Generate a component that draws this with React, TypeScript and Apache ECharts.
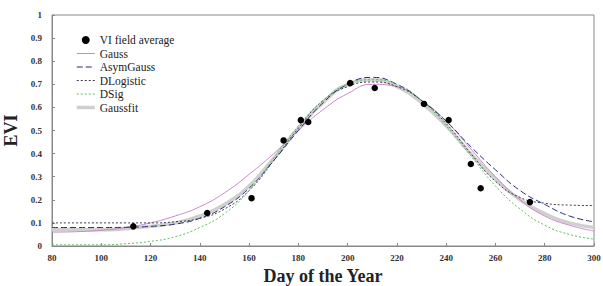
import React, { useEffect, useRef } from "react";
import * as echarts from "echarts";

const fieldDays = [113, 143, 161, 174, 181, 184, 201, 211, 231, 241, 250, 254, 274];
const fieldEVI = [0.085, 0.143, 0.207, 0.457, 0.545, 0.537, 0.705, 0.684, 0.615, 0.545, 0.355, 0.25, 0.19];

const curveDays = [80, 90, 100, 110, 120, 130, 140, 150, 160, 170, 180, 190, 200, 210, 220, 230, 240, 250, 260, 270, 280, 290, 300];
const gauss = [0.06, 0.062, 0.068, 0.08, 0.1, 0.13, 0.17, 0.23, 0.31, 0.4, 0.5, 0.59, 0.66, 0.7, 0.69, 0.63, 0.54, 0.42, 0.3, 0.2, 0.13, 0.09, 0.065];
const asymGauss = [0.08, 0.08, 0.08, 0.081, 0.085, 0.095, 0.12, 0.17, 0.25, 0.37, 0.5, 0.62, 0.7, 0.73, 0.7, 0.63, 0.54, 0.43, 0.33, 0.24, 0.18, 0.13, 0.105];
const dLogistic = [0.1, 0.1, 0.1, 0.1, 0.1, 0.105, 0.12, 0.16, 0.24, 0.37, 0.51, 0.63, 0.69, 0.71, 0.69, 0.63, 0.53, 0.4, 0.28, 0.21, 0.185, 0.177, 0.175];
const dSig = [0.005, 0.005, 0.005, 0.01, 0.02, 0.04, 0.08, 0.14, 0.24, 0.38, 0.52, 0.63, 0.7, 0.72, 0.7, 0.63, 0.52, 0.39, 0.26, 0.16, 0.09, 0.05, 0.03];
const gaussfit = [0.07, 0.07, 0.07, 0.075, 0.085, 0.1, 0.13, 0.18, 0.26, 0.38, 0.51, 0.62, 0.7, 0.72, 0.69, 0.62, 0.52, 0.4, 0.29, 0.2, 0.14, 0.1, 0.08];

const xTicks = [80, 100, 120, 140, 160, 180, 200, 220, 240, 260, 280, 300];
const legendNames = ["VI field average", "Gauss", "AsymGauss", "DLogistic", "DSig", "Gaussfit"];

const FONT = "Liberation Serif";

function pairs(xs: number[], ys: number[]) {
  return xs.map((x, i) => [x, ys[i]]);
}

export default function App() {
  const ref = useRef<HTMLDivElement>(null);
  useEffect(() => {
    if (!ref.current) return;
    const chart = echarts.init(ref.current, null, { renderer: "svg" });
    const lineBase = { type: "line", smooth: true, symbol: "none", z: 2 };
    chart.setOption({
      animation: false,
      backgroundColor: "#fff",
      grid: {
        left: 52,
        right: 9,
        top: 15,
        bottom: 40,
        show: true,
        borderColor: "#888",
        borderWidth: 1,
        containLabel: false,
        outerBoundsMode: "none",
      },
      legend: {
        orient: "vertical",
        left: 70,
        top: 29,
        itemWidth: 18,
        itemHeight: 8,
        itemGap: 1.5,
        textStyle: { fontFamily: FONT, fontSize: 11.5, color: "#222", lineHeight: 11 },
        data: legendNames.map((n, i) =>
          i === 0
            ? { name: n }
            : { name: n, itemStyle: { opacity: 0 }, lineStyle: { width: n === "Gaussfit" ? 3.5 : 1 } }
        ),
      },
      xAxis: {
        type: "value",
        min: 80,
        max: 300,
        interval: 20,
        name: "Day of the Year",
        nameLocation: "middle",
        nameGap: 17,
        nameTextStyle: { fontFamily: FONT, fontSize: 18, fontWeight: "bold", color: "#222" },
        axisLine: { lineStyle: { color: "#888" } },
        axisTick: { inside: true, length: 3, lineStyle: { color: "#888" } },
        axisLabel: {
          fontFamily: FONT,
          fontSize: 9,
          fontWeight: "bold",
          color: "#333",
          margin: 7,
          formatter: (v: number) => (xTicks.includes(v) ? String(v) : ""),
        },
        splitLine: { show: false },
      },
      yAxis: {
        type: "value",
        min: 0,
        max: 1,
        interval: 0.1,
        name: "EVI",
        nameLocation: "middle",
        nameGap: 29,
        nameTextStyle: { fontFamily: FONT, fontSize: 18, fontWeight: "bold", color: "#222" },
        axisLine: { show: true, lineStyle: { color: "#888" } },
        axisTick: { show: true, inside: true, length: 3, lineStyle: { color: "#888" } },
        axisLabel: {
          fontFamily: FONT,
          fontSize: 9,
          fontWeight: "bold",
          color: "#333",
          margin: 10,
          formatter: (v: number) => String(Math.round(v * 10) / 10),
        },
        splitLine: { show: false },
      },
      series: [
        {
          ...lineBase,
          name: "Gaussfit",
          data: pairs(curveDays, gaussfit),
          lineStyle: { color: "#cfcfcf", width: 3.5 },
          itemStyle: { color: "#cfcfcf" },
          z: 1,
        },
        {
          ...lineBase,
          name: "Gauss",
          data: pairs(curveDays, gauss),
          lineStyle: { color: "#c98ac9", width: 1 },
          itemStyle: { color: "#c98ac9" },
        },
        {
          ...lineBase,
          name: "AsymGauss",
          data: pairs(curveDays, asymGauss),
          lineStyle: { color: "#2b2b78", width: 1, type: [6, 3] },
          itemStyle: { color: "#2b2b78" },
        },
        {
          ...lineBase,
          name: "DLogistic",
          data: pairs(curveDays, dLogistic),
          lineStyle: { color: "#3c3c55", width: 1, type: [2, 2] },
          itemStyle: { color: "#3c3c55" },
        },
        {
          ...lineBase,
          name: "DSig",
          data: pairs(curveDays, dSig),
          lineStyle: { color: "#5cbf5c", width: 1, type: [2, 2] },
          itemStyle: { color: "#5cbf5c" },
        },
        {
          type: "scatter",
          name: "VI field average",
          data: pairs(fieldDays, fieldEVI),
          symbol: "circle",
          symbolSize: 6.5,
          itemStyle: { color: "#000", opacity: 1 },
          z: 5,
        },
      ],
    });
    return () => chart.dispose();
  }, []);
  return <div ref={ref} style={{ width: 603, height: 286, position: "absolute", left: 0, top: 0 }} />;
}
